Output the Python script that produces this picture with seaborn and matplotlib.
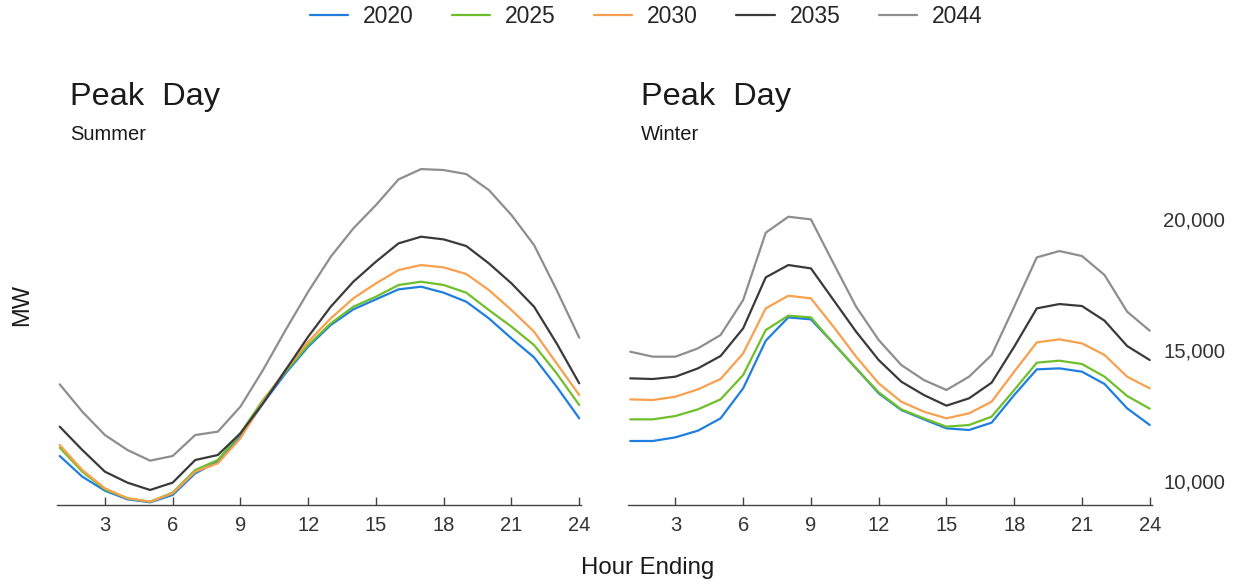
import pandas as pd
import numpy as np
import matplotlib
matplotlib.use("Agg")
import matplotlib.pyplot as plt
import seaborn as sns
from matplotlib.ticker import FuncFormatter

# Werte (MW je Stunde 1..24)
hours = list(range(1, 25))
years = ["2020", "2025", "2030", "2035", "2044"]

summer_2020 = [10954, 10165, 9631, 9300, 9186, 9466, 10293, 10738, 11692, 12964, 14109, 15126,
               15953, 16551, 16933, 17314, 17416, 17187, 16843, 16207, 15444, 14719, 13600, 12391]
summer_2025 = [11272, 10356, 9682, 9339, 9211, 9555, 10420, 10801, 11819, 13091, 14172, 15190,
               16016, 16653, 17034, 17480, 17607, 17480, 17187, 16525, 15890, 15190, 14109, 12900]
summer_2030 = [11374, 10420, 9720, 9339, 9211, 9529, 10356, 10674, 11628, 13027, 14236, 15317,
               16207, 16971, 17543, 18052, 18243, 18154, 17899, 17289, 16525, 15699, 14490, 13282]
summer_2035 = [12073, 11183, 10356, 9936, 9657, 9936, 10801, 10992, 11819, 12964, 14236, 15508,
               16653, 17607, 18370, 19070, 19324, 19222, 18968, 18306, 17543, 16653, 15253, 13727]
summer_2044 = [13689, 12646, 11755, 11183, 10776, 10954, 11755, 11883, 12837, 14236, 15762, 17225,
               18561, 19642, 20532, 21512, 21906, 21868, 21715, 21105, 20151, 19006, 17289, 15470]

winter_2020 = [11526, 11526, 11666, 11921, 12391, 13536, 15355, 16245, 16169, 15253, 14299, 13345,
               12709, 12353, 12010, 11946, 12226, 13282, 14261, 14299, 14172, 13702, 12773, 12137]
winter_2025 = [12353, 12353, 12480, 12735, 13116, 14045, 15762, 16309, 16245, 15253, 14299, 13384,
               12735, 12391, 12073, 12137, 12455, 13473, 14516, 14592, 14465, 13981, 13244, 12760]
winter_2030 = [13116, 13091, 13218, 13498, 13892, 14872, 16589, 17072, 16971, 15889, 14745, 13727,
               13027, 12646, 12391, 12582, 13027, 14172, 15291, 15406, 15253, 14808, 13981, 13536]
winter_2035 = [13918, 13892, 13981, 14299, 14770, 15826, 17772, 18243, 18115, 16907, 15699, 14617,
               13791, 13282, 12875, 13155, 13752, 15126, 16589, 16754, 16678, 16118, 15152, 14617]
winter_2044 = [14935, 14745, 14745, 15063, 15571, 16907, 19476, 20087, 19985, 18306, 16653, 15380,
               14427, 13854, 13473, 13981, 14808, 16653, 18535, 18777, 18586, 17861, 16462, 15737]

summer = {"2020": summer_2020, "2025": summer_2025, "2030": summer_2030,
          "2035": summer_2035, "2044": summer_2044}
winter = {"2020": winter_2020, "2025": winter_2025, "2030": winter_2030,
          "2035": winter_2035, "2044": winter_2044}

palette = {"2020": "#1f7fe0", "2025": "#6fbf2a", "2030": "#f8a04e",
           "2035": "#3a3a3a", "2044": "#8e8e8e"}


def to_long(d):
    rows = []
    for y in years:
        for h, v in zip(hours, d[y]):
            rows.append({"hour": h, "MW": v, "year": y})
    return pd.DataFrame(rows)


df_s = to_long(summer)
df_w = to_long(winter)

sns.set_style("white")
plt.rcParams["font.family"] = ["Liberation Sans", "DejaVu Sans"]

fig = plt.figure(figsize=(12.33, 5.84), dpi=100)
ax1 = fig.add_axes([0.0466, 0.1353, 0.425, 0.625])
ax2 = fig.add_axes([0.5093, 0.1353, 0.425, 0.625])

for ax, df in [(ax1, df_s), (ax2, df_w)]:
    sns.lineplot(data=df, x="hour", y="MW", hue="year", palette=palette,
                 hue_order=years, linewidth=1.6, ax=ax, legend=(ax is ax1))
    ax.set_xlim(0.9, 24.1)
    ax.set_ylim(9084, 23016)
    ax.set_xticks([3, 6, 9, 12, 15, 18, 21, 24])
    ax.set_xlabel("")
    ax.set_ylabel("")
    for s in ["top", "left", "right"]:
        ax.spines[s].set_visible(False)
    ax.spines["bottom"].set_color("#444444")
    ax.spines["bottom"].set_linewidth(1.0)
    ax.tick_params(axis="x", direction="in", length=6, width=1, color="#444444",
                   labelsize=14.5, labelcolor="#333333", pad=8, bottom=True)

ax1.set_yticks([])
ax2.yaxis.tick_right()
ax2.set_yticks([10000, 15000, 20000])
ax2.yaxis.set_major_formatter(FuncFormatter(lambda x, p: f"{x:,.0f}"))
ax2.tick_params(axis="y", length=0, labelsize=14.7, labelcolor="#333333", pad=8)

handles, labels = ax1.get_legend_handles_labels()
ax1.get_legend().remove()
fig.legend(handles, labels, loc="center", bbox_to_anchor=(0.524, 0.972), ncol=5,
           frameon=False, fontsize=16.5, handlelength=1.66, columnspacing=1.68,
           handletextpad=0.65)

fig.text(0.0568, 0.820, "Peak  Day", fontsize=23.4, color="#1a1a1a", va="baseline")
fig.text(0.0568, 0.760, "Summer", fontsize=14.5, color="#1a1a1a", va="baseline")
fig.text(0.520, 0.820, "Peak  Day", fontsize=23.4, color="#1a1a1a", va="baseline")
fig.text(0.520, 0.760, "Winter", fontsize=14.5, color="#1a1a1a", va="baseline")

fig.text(0.018, 0.478, "MW", fontsize=17, rotation=90, ha="center", va="center", color="#1a1a1a")
fig.text(0.5255, 0.027, "Hour Ending", fontsize=17.3, ha="center", va="center", color="#1a1a1a")

fig.savefig("out.png", dpi=100)
